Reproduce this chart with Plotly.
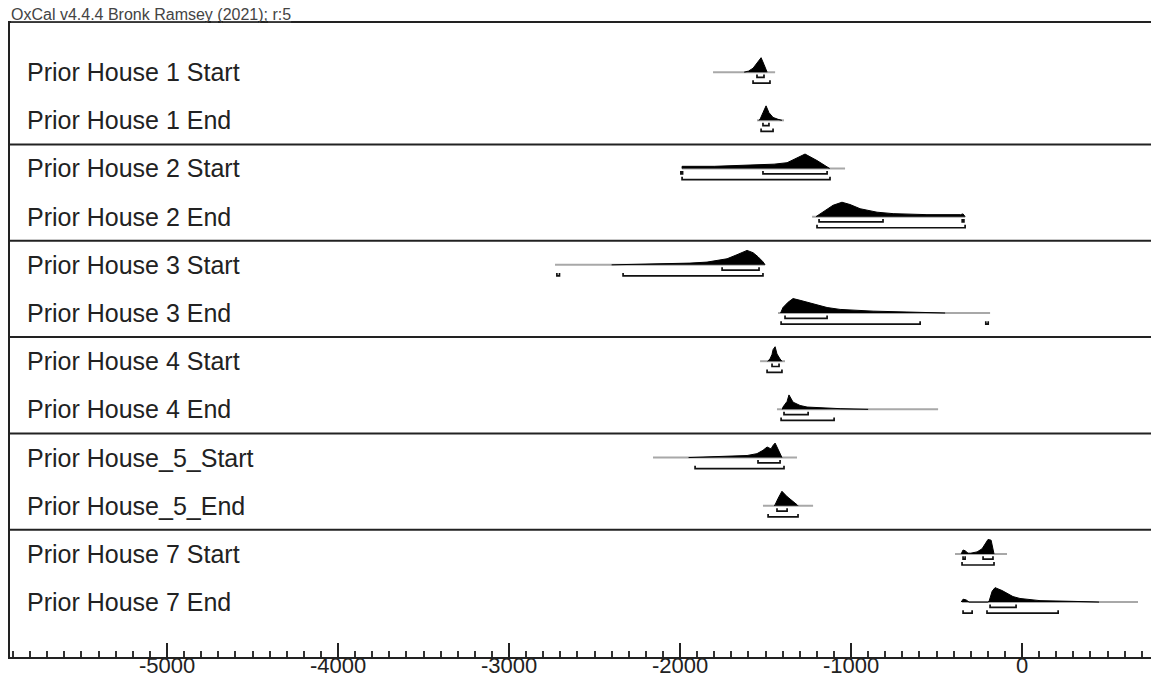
import plotly.graph_objects as go

labels = ["Prior House 1 Start", "Prior House 1 End",
          "Prior House 2 Start", "Prior House 2 End",
          "Prior House 3 Start", "Prior House 3 End",
          "Prior House 4 Start", "Prior House 4 End",
          "Prior House_5_Start", "Prior House_5_End",
          "Prior House 7 Start", "Prior House 7 End"]

# grey prior line extents
prior_lo = [-1807, -1550, -1988, -1228, -2731, -1427, -1532, -1433, -2158, -1515, -392, -351]
prior_hi = [-1444, -1392, -1035, -333, -1503, -187, -1386, -491, -1316, -1222, -88, 678]

# posterior densities: years and relative heights (peak = 1)
post_x = [
    [-1625, -1600, -1573, -1550, -1526, -1509, -1491],
    [-1540, -1532, -1515, -1497, -1480, -1456, -1427, -1404],
    [-1988, -1988, -1800, -1700, -1532, -1450, -1374, -1298, -1269, -1199, -1140, -1125],
    [-1205, -1181, -1140, -1105, -1053, -1006, -947, -848, -754, -556, -360, -345, -333],
    [-2400, -2200, -2041, -1942, -1842, -1784, -1725, -1667, -1632, -1608, -1573, -1544, -1515, -1503],
    [-1412, -1398, -1368, -1339, -1298, -1257, -1199, -1140, -1064, -965, -871, -673, -450],
    [-1488, -1474, -1462, -1456, -1444, -1433, -1415, -1404],
    [-1402, -1398, -1374, -1363, -1339, -1298, -1257, -1164, -1064, -900],
    [-1950, -1749, -1608, -1550, -1515, -1491, -1468, -1456, -1444, -1433, -1415, -1404],
    [-1450, -1444, -1427, -1404, -1374, -1345, -1316, -1310],
    [-356, -345, -333, -316, -300, -263, -234, -216, -199, -181, -170, -164],
    [-356, -345, -327, -310, -200, -193, -175, -158, -117, -88, -53, -12, 47, 105, 298, 450],
]
post_h = [
    [0, 0.07, 0.27, 0.67, 1.0, 0.53, 0],
    [0, 0.07, 0.53, 1.0, 0.53, 0.2, 0.07, 0],
    [0, 0.15, 0.15, 0.18, 0.23, 0.3, 0.4, 0.85, 1.0, 0.55, 0.15, 0],
    [0, 0.19, 0.55, 0.79, 1.0, 0.84, 0.55, 0.31, 0.21, 0.14, 0.14, 0.19, 0],
    [0, 0.03, 0.07, 0.12, 0.19, 0.28, 0.42, 0.7, 0.91, 1.0, 0.84, 0.56, 0.21, 0],
    [0, 0.38, 0.75, 1.0, 0.88, 0.75, 0.55, 0.38, 0.25, 0.17, 0.13, 0.07, 0],
    [0, 0.15, 0.47, 0.8, 1.0, 0.5, 0.15, 0],
    [0, 0.16, 0.55, 1.0, 0.5, 0.27, 0.16, 0.09, 0.05, 0],
    [0, 0.07, 0.14, 0.27, 0.5, 0.73, 0.6, 0.84, 1.0, 0.73, 0.27, 0],
    [0, 0.07, 0.5, 1.0, 0.63, 0.38, 0.07, 0],
    [0, 0.27, 0.22, 0.05, 0.05, 0.14, 0.35, 0.68, 1.0, 0.95, 0.4, 0],
    [0, 0.2, 0.15, 0, 0, 0.05, 0.75, 1.0, 0.8, 0.63, 0.38, 0.25, 0.15, 0.1, 0.05, 0],
]

# highest posterior density ranges
range68 = [
    [[-1550, -1509]],
    [[-1515, -1480]],
    [[-1995, -1985], [-1515, -1140]],
    [[-1187, -813], [-350, -340]],
    [[-1754, -1538]],
    [[-1386, -1140]],
    [[-1462, -1421]],
    [[-1392, -1251]],
    [[-1544, -1415]],
    [[-1433, -1374]],
    [[-345, -333], [-228, -170]],
    [[-187, -35]],
]
range95 = [
    [[-1573, -1474]],
    [[-1526, -1456]],
    [[-1988, -1123]],
    [[-1199, -333]],
    [[-2720, -2705], [-2333, -1515]],
    [[-1409, -596], [-212, -198]],
    [[-1491, -1404]],
    [[-1409, -1099]],
    [[-1912, -1392]],
    [[-1485, -1310]],
    [[-351, -164]],
    [[-345, -292], [-205, 211]],
]

x_ticks = [-5000, -4000, -3000, -2000, -1000, 0]
x_range = [-5918, 754]
separators = [1.5, 3.5, 5.5, 7.5, 9.5]
title_text = "OxCal v4.4.4 Bronk Ramsey (2021); r:5"

PEAK = 0.30
OFF68, OFF95, TICK = 0.11, 0.23, 0.06
FONT = "Liberation Sans, Arial"

fig = go.Figure()
for i in range(len(labels)):
    fig.add_trace(go.Scatter(x=[prior_lo[i], prior_hi[i]], y=[i, i], mode="lines",
                             line=dict(color="#a8a8a8", width=2), hoverinfo="skip", showlegend=False))
    xs = list(post_x[i])
    ys = [i - h * PEAK for h in post_h[i]]
    fig.add_trace(go.Scatter(x=xs, y=ys, mode="lines", fill="toself", fillcolor="black",
                             line=dict(color="black", width=1), hoverinfo="skip", showlegend=False))
    for rngs, off in ((range68[i], OFF68), (range95[i], OFF95)):
        bx, by = [], []
        for a, b in rngs:
            bx += [a, a, b, b, None]
            by += [i + off - TICK, i + off, i + off, i + off - TICK, None]
        fig.add_trace(go.Scatter(x=bx, y=by, mode="lines", line=dict(color="#111", width=1.7),
                                 hoverinfo="skip", showlegend=False))

for s in separators:
    fig.add_shape(type="line", xref="paper", x0=0, x1=1, yref="y", y0=s, y1=s,
                  line=dict(color="#222", width=2))

for i, lab in enumerate(labels):
    fig.add_annotation(text=lab, xref="paper", x=0.0131, xanchor="left", yref="y", y=i,
                       yanchor="middle", showarrow=False,
                       font=dict(family=FONT, size=25, color="#222"))

# x tick labels placed under the axis line
for v in x_ticks:
    fig.add_annotation(text=str(v), xref="x", x=v, xanchor="center", yref="paper", y=0,
                       yanchor="top", yshift=6, showarrow=False,
                       font=dict(family=FONT, size=22, color="#222"))

fig.add_annotation(text="<u>" + title_text + "</u>", xref="paper", x=-0.001, xanchor="left",
                   yref="paper", y=1, yanchor="bottom", yshift=-2, showarrow=False,
                   font=dict(family=FONT, size=16, color="#444"))

fig.update_layout(
    width=1151, height=679,
    margin=dict(l=10, r=0, t=23, b=22),
    paper_bgcolor="white", plot_bgcolor="white",
    xaxis=dict(range=x_range, tickvals=x_ticks, showticklabels=False,
               ticks="inside", ticklen=14, tickwidth=2, tickcolor="#222",
               showline=True, linewidth=2, linecolor="#222", mirror=True,
               showgrid=False, zeroline=False,
               minor=dict(dtick=100, tick0=0, ticks="inside", ticklen=6, tickwidth=1.5,
                          tickcolor="#333", showgrid=False),
               automargin=False),
    yaxis=dict(range=[12.14, -1.02], showticklabels=False, ticks="", showgrid=False,
               zeroline=False, showline=True, linewidth=2, linecolor="#222", mirror=False,
               automargin=False),
)

fig.write_html("out.html")
